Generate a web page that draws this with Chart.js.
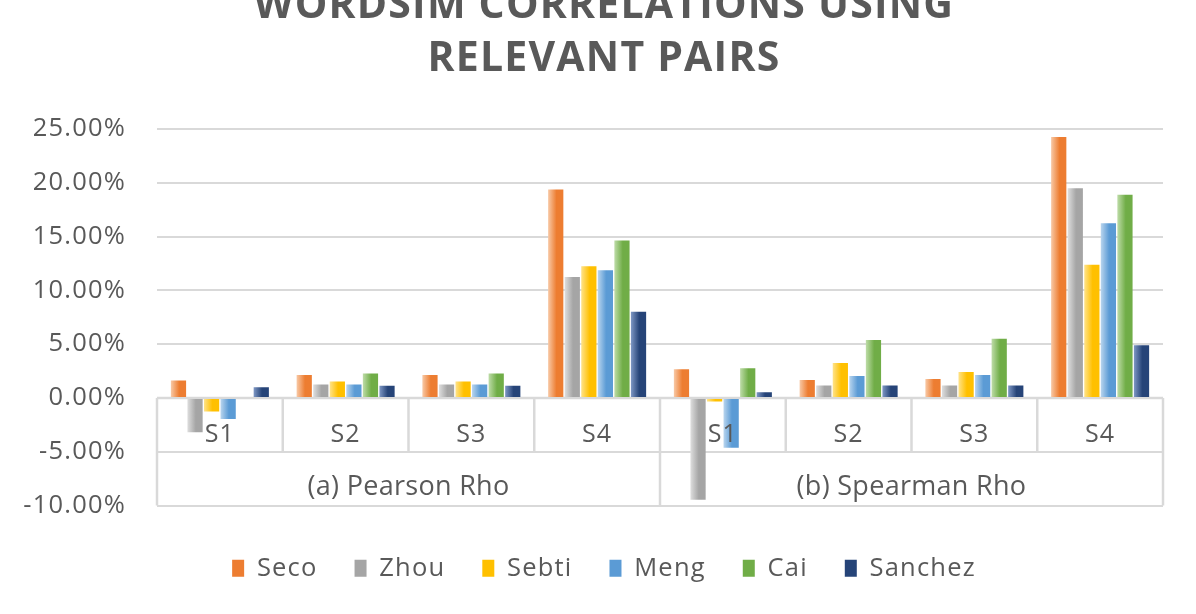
<!DOCTYPE html>
<html><head><meta charset="utf-8">
<script src="https://cdn.jsdelivr.net/npm/chart.js@4/dist/chart.umd.min.js"></script>
<style>
html,body{margin:0;padding:0;background:#fff;overflow:hidden;width:1196px;height:614px}
#wrap{position:absolute;left:0;top:-30px;width:1196px;height:644px}
</style></head><body>
<div id="wrap"><canvas id="c"></canvas></div>
<script>
// ---- data ----
const titleLines = ['WORDSIM CORRELATIONS USING', 'RELEVANT PAIRS'];
const categories = ['S1', 'S2', 'S3', 'S4', 'S1', 'S2', 'S3', 'S4'];
const groups = ['(a) Pearson Rho', '(b) Spearman Rho'];
const seriesNames = ['Seco', 'Zhou', 'Sebti', 'Meng', 'Cai', 'Sanchez'];
const seco    = [1.63, 2.12, 2.12, 19.38, 2.66, 1.66, 1.75, 24.25];
const zhou    = [-3.20, 1.25, 1.25, 11.25, -9.47, 1.16, 1.16, 19.50];
const sebti   = [-1.25, 1.53, 1.53, 12.25, -0.34, 3.25, 2.41, 12.38];
const meng    = [-1.97, 1.25, 1.25, 11.88, -4.62, 2.03, 2.12, 16.25];
const cai     = [0.00, 2.28, 2.28, 14.63, 2.75, 5.38, 5.50, 18.88];
const sanchez = [1.00, 1.13, 1.13, 8.00, 0.53, 1.16, 1.16, 4.90];
const yTicks  = [-10, -5, 0, 5, 10, 15, 20, 25];

// ---- styles ----
const seriesValues = [seco, zhou, sebti, meng, cai, sanchez];
const baseColors  = ['#ED7D31', '#A5A5A5', '#FFC000', '#5B9BD5', '#70AD47', '#264478'];
const lightColors = ['#F8C9A6', '#DEDEDE', '#FFE38A', '#B9D5EE', '#BEDCA8', '#7E97C4'];
const textColor = '#595959';
const lineColor = '#D9D9D9';
const FONT = '"Open Sans", "Noto Sans", sans-serif';
const SPACING = '1.2px';

const spacingPlugin = {
  id: 'spacing',
  beforeInit(chart) { chart.ctx.letterSpacing = SPACING; },
  beforeUpdate(chart) { chart.ctx.letterSpacing = SPACING; },
  beforeDraw(chart) { chart.ctx.letterSpacing = SPACING; }
};

const gradientPlugin = {
  id: 'barGradient',
  beforeDatasetsDraw(chart) {
    const ctx = chart.ctx;
    chart.data.datasets.forEach((ds, i) => {
      const meta = chart.getDatasetMeta(i);
      meta.data.forEach(bar => {
        const {x, width} = bar.getProps(['x', 'width'], true);
        const g = ctx.createLinearGradient(x - width / 2, 0, x + width / 2, 0);
        g.addColorStop(0, lightColors[i]);
        g.addColorStop(0.55, baseColors[i]);
        g.addColorStop(1, baseColors[i]);
        bar.options = Object.assign({}, bar.options, {backgroundColor: g});
      });
    });
  }
};

const tablePlugin = {
  id: 'categoryTable',
  beforeDatasetsDraw(chart) {
    const {ctx, scales: {x, y}} = chart;
    const y0 = y.getPixelForValue(0);
    const yMid = y.getPixelForValue(-5);
    const yBot = y.getPixelForValue(-10);
    const per = categories.length / groups.length;
    ctx.save();
    ctx.strokeStyle = lineColor;
    ctx.lineWidth = 2.5;
    for (let i = 0; i <= categories.length; i++) {
      const px = x.getPixelForValue(i - 0.5);
      ctx.beginPath();
      ctx.moveTo(px, y0);
      ctx.lineTo(px, (i % per === 0) ? yBot : yMid);
      ctx.stroke();
    }
    ctx.beginPath();
    ctx.moveTo(x.left, y0);
    ctx.lineTo(x.right, y0);
    ctx.stroke();
    ctx.fillStyle = textColor;
    ctx.font = '27px ' + FONT;
    ctx.letterSpacing = '0.3px';
    ctx.textAlign = 'center';
    ctx.textBaseline = 'middle';
    groups.forEach((g, gi) => {
      const cx = x.getPixelForValue(gi * per + (per - 1) / 2);
      ctx.fillText(g, cx, (yMid + yBot) / 2 + 9);
    });
    ctx.restore();
  }
};

new Chart(document.getElementById('c'), {
  type: 'bar',
  data: {
    labels: categories,
    datasets: seriesNames.map((name, i) => ({
      label: name,
      data: seriesValues[i],
      backgroundColor: baseColors[i],
      borderWidth: 0,
      categoryPercentage: 0.79,
      barPercentage: 0.92
    }))
  },
  options: {
    responsive: true,
    maintainAspectRatio: false,
    animation: false,
    layout: {padding: {left: 12, right: 0, top: 0, bottom: 23}},
    scales: {
      x: {
        position: {y: 0},
        offset: true,
        grid: {display: false, drawTicks: false},
        border: {display: false},
        ticks: {z: 1, font: {family: FONT, size: 25}, color: textColor, padding: 22, maxRotation: 0, autoSkip: false}
      },
      xgap: {
        type: 'category', position: 'bottom', display: true,
        grid: {display: false, drawTicks: false}, border: {display: false},
        ticks: {display: false},
        afterFit: s => { s.height = 13; }
      },
      y: {
        min: -10, max: 25,
        afterBuildTicks: s => { s.ticks = yTicks.map(v => ({value: v})); },
        ticks: {font: {family: FONT, size: 25.5}, color: textColor, padding: 31, callback: v => v.toFixed(2) + '%'},
        grid: {color: lineColor, lineWidth: 2, drawTicks: false},
        border: {display: false},
        afterFit: s => { s.width = 145; }
      },
      ygap: {
        type: 'linear', position: 'right', display: true,
        grid: {display: false, drawTicks: false}, border: {display: false},
        ticks: {display: false},
        afterFit: s => { s.width = 33; }
      }
    },
    plugins: {
      title: {
        display: true, text: titleLines, color: textColor,
        font: {family: FONT, size: 41, weight: 'bold', lineHeight: 53 / 41},
        padding: {top: 10, bottom: 43}
      },
      legend: {
        position: 'bottom',
        labels: {font: {family: FONT, size: 25.5}, color: textColor, boxWidth: 12, boxHeight: 17, padding: 37}
      },
      tooltip: {enabled: false}
    }
  },
  plugins: [spacingPlugin, tablePlugin, gradientPlugin]
});
</script>
</body></html>
